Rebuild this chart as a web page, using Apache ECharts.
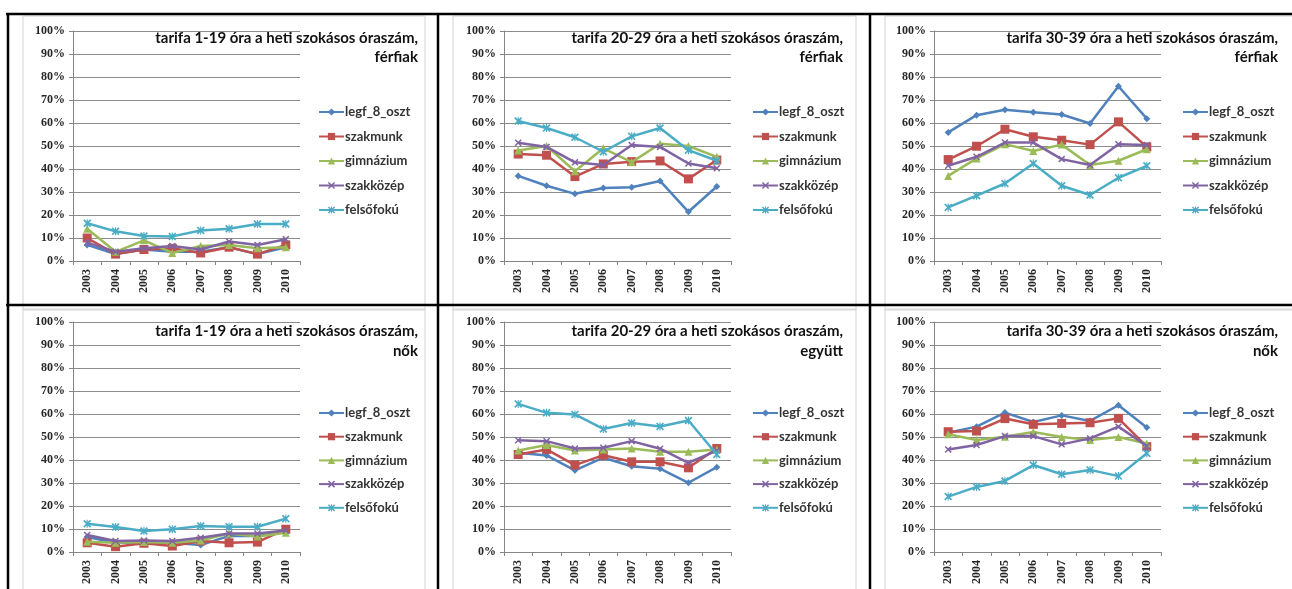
<!DOCTYPE html>
<html>
<head>
<meta charset="utf-8">
<script src="https://cdn.jsdelivr.net/npm/echarts@6/dist/echarts.min.js"></script>
<style>
html,body{margin:0;padding:0;background:#fff;}
#c{width:1292px;height:589px;}
</style>
</head>
<body>
<div id="c"></div>
<script>
// ---- data ----
const categories = ['2003','2004','2005','2006','2007','2008','2009','2010'];
const seriesNames = ['legf_8_oszt','szakmunk','gimnázium','szakközép','felsőfokú'];
const yTicks = [0,10,20,30,40,50,60,70,80,90,100];

// rows: legf_8_oszt, szakmunk, gimnázium, szakközép, felsőfokú (percent)
const tarifa_1_19_ferfiak = [
  [7, 3, 5, 4, 4, 6, 3, 6],
  [10, 3, 5, 5.5, 3.5, 6, 3, 7],
  [14, 4, 9, 3.5, 6.5, 7, 5.5, 6],
  [8, 4, 5.5, 6.5, 5, 8.5, 7, 9.5],
  [16.4, 12.9, 10.9, 10.7, 13.3, 14, 16.1, 16.1]
];
const tarifa_20_29_ferfiak = [
  [37, 32.7, 29.2, 31.7, 32.1, 34.8, 21.4, 32.4],
  [46.5, 46, 36.7, 42.2, 43.2, 43.5, 35.7, 43.9],
  [48, 50, 39, 49, 43, 51, 50, 45.3],
  [51.4, 49.6, 42.9, 41.7, 50.4, 49.6, 42.4, 40.3],
  [60.9, 57.8, 53.8, 47.5, 54.2, 57.8, 48.2, 43.6]
];
const tarifa_30_39_ferfiak = [
  [55.9, 63.4, 65.8, 64.7, 63.7, 59.8, 76, 61.9],
  [44.1, 49.9, 57.3, 54, 52.5, 50.6, 60.5, 49.6],
  [37, 44.6, 50.8, 47.8, 50.6, 41.7, 43.6, 48.6],
  [41.4, 45.3, 51.5, 51.5, 44.3, 41.7, 50.8, 50.4],
  [23.3, 28.4, 33.7, 42.4, 32.7, 28.7, 36.2, 41.4]
];
const tarifa_1_19_nok = [
  [6.5, 4, 4, 4, 3, 7, 7, 9],
  [4, 2.3, 3.8, 2.6, 4.8, 4, 4.3, 9.9],
  [4.5, 4, 4.3, 4, 5, 8, 6.7, 8.4],
  [7.4, 4.8, 5, 4.8, 6.2, 8, 8, 9.4],
  [12.3, 10.9, 9.1, 9.9, 11.3, 11, 11, 14.5]
];
const tarifa_20_29_egyutt = [
  [43.1, 42, 35.5, 41, 37.3, 36.2, 30.1, 36.9],
  [42.4, 44.6, 37.8, 42.1, 39.2, 39.2, 36.6, 45],
  [44.1, 46.5, 44.1, 44.6, 45, 43.6, 43.6, 44.6],
  [48.6, 48.2, 45, 45.3, 48.2, 44.9, 38.8, 44.1],
  [64.4, 60.5, 59.8, 53.5, 56.1, 54.6, 57.2, 42.4]
];
const tarifa_30_39_nok = [
  [51.9, 54.5, 60.6, 56.5, 59.4, 57, 63.8, 54.1],
  [52.3, 52.6, 58, 55.5, 55.9, 56.2, 58.1, 45.8],
  [51.2, 48.7, 50.1, 52.2, 50, 48.7, 50, 47.2],
  [44.6, 46.5, 50.4, 50.4, 46.8, 49.4, 54.5, 46.1],
  [24.1, 28.3, 30.9, 37.8, 33.8, 35.7, 33, 42.9]
];
const panelData = [tarifa_1_19_ferfiak, tarifa_20_29_ferfiak, tarifa_30_39_ferfiak,
                   tarifa_1_19_nok, tarifa_20_29_egyutt, tarifa_30_39_nok];
const titleLine1 = ['tarifa 1-19 óra a heti szokásos óraszám,', 'tarifa 20-29 óra a heti szokásos óraszám,',
  'tarifa 30-39 óra a heti szokásos óraszám,', 'tarifa 1-19 óra a heti szokásos óraszám,',
  'tarifa 20-29 óra a heti szokásos óraszám,', 'tarifa 30-39 óra a heti szokásos óraszám,'];
const titleLine2 = ['férfiak','férfiak','férfiak','nők','együtt','nők'];

// ---- styles / layout ----
const colors = ['#4F81BD','#C0504D','#9BBB59','#8064A2','#4BACC6'];
const X_PATH = 'path://M0,1.5L1.5,0L5,3.5L8.5,0L10,1.5L6.5,5L10,8.5L8.5,10L5,6.5L1.5,10L0,8.5L3.5,5Z';
const STAR_PATH = 'path://M0,1.5L1.5,0L5,3.5L8.5,0L10,1.5L6.5,5L10,8.5L8.5,10L5,6.5L1.5,10L0,8.5L3.5,5Z M4.3,0L5.7,0L5.7,10L4.3,10Z';
const symbols = ['diamond','rect','triangle',X_PATH,STAR_PATH];
const symbolSizes = [7,9,8,7,8];

const gridLefts = [73, 504, 934];
const rowTops = [31, 322];
const gridW = 227, gridH = 230;
const titleRights = [418, 843, 1278];
const titleTops = [[38, 57], [331, 351]];
const legendLefts = [313, 747, 1177];
const legendTops = [100.5, 401.5];
const legendItemH = 9;
const legendGaps = [11.5, 10.7];

const grids = [], xAxes = [], yAxes = [], series = [], legends = [], graphics = [];
const labelFont = 'Liberation Serif';
const sansFont = 'Lato';

for (let p = 0; p < 6; p++) {
  const col = p % 3, row = Math.floor(p / 3);
  grids.push({left: gridLefts[col], top: rowTops[row], width: gridW, height: gridH, containLabel: false});
  xAxes.push({
    type: 'category', gridIndex: p, data: categories, boundaryGap: true,
    axisLine: {lineStyle: {color: '#868686', width: 1}},
    axisTick: {show: true, length: 4, lineStyle: {color: '#868686'}},
    axisLabel: {rotate: 90, margin: 8, color: '#262626', fontFamily: labelFont, fontWeight: 'bold', fontSize: 12}
  });
  yAxes.push({
    type: 'value', gridIndex: p, min: 0, max: 100, interval: 10,
    axisLine: {show: true, lineStyle: {color: '#868686', width: 1}},
    axisTick: {show: true, length: 4, lineStyle: {color: '#868686'}},
    splitLine: {show: true, lineStyle: {color: '#8c8c8c', width: 1}},
    axisLabel: {formatter: v => yTicks.indexOf(v) >= 0 ? v + '%' : '', margin: 8, color: '#262626',
      fontFamily: labelFont, fontWeight: 'bold', fontSize: 12}
  });
  const d = panelData[p];
  for (let s = 0; s < 5; s++) {
    series.push({
      type: 'line', name: seriesNames[s], xAxisIndex: p, yAxisIndex: p, data: d[s],
      symbol: symbols[s], symbolSize: symbolSizes[s], showAllSymbol: true,
      lineStyle: {color: colors[s], width: 2.5},
      itemStyle: {color: colors[s], borderWidth: 0},
      z: 3 + s, animation: false
    });
  }
  legends.push({
    data: seriesNames, orient: 'vertical', left: legendLefts[col], top: legendTops[row],
    itemWidth: 25, itemHeight: legendItemH, itemGap: legendGaps[row], selectedMode: false,
    textStyle: {fontFamily: sansFont, fontWeight: 'bold', fontSize: 13, color: '#333', padding: [0,0,0,-4]}
  });
  graphics.push({
    type: 'text', x: titleRights[col], y: titleTops[row][0],
    style: {text: titleLine1[p], align: 'right', verticalAlign: 'middle', fill: '#111',
      font: 'bold 15px ' + sansFont}, z: 10
  });
  graphics.push({
    type: 'text', x: titleRights[col], y: titleTops[row][1],
    style: {text: titleLine2[p], align: 'right', verticalAlign: 'middle', fill: '#111',
      font: 'bold 15px ' + sansFont}, z: 10
  });
}

// Excel chart boxes (light gray) and black table borders
const boxX = [[23, 425], [453, 856], [885, 1300]];
const boxY = [[16, 310], [309, 600]];
for (let r = 0; r < 2; r++) for (let c = 0; c < 3; c++) {
  graphics.push({type: 'rect', shape: {x: boxX[c][0], y: boxY[r][0], width: boxX[c][1]-boxX[c][0], height: boxY[r][1]-boxY[r][0]},
    style: {fill: null, stroke: '#d4d4d4', lineWidth: 1}, z: 0, silent: true});
}
const black = {stroke: '#000', lineWidth: 2.5};
graphics.push({type: 'line', shape: {x1: 6, y1: 14, x2: 1292, y2: 14}, style: black, z: 20});
graphics.push({type: 'line', shape: {x1: 6, y1: 305, x2: 1292, y2: 305}, style: black, z: 20});
[8, 438, 870].forEach(x => graphics.push({type: 'line', shape: {x1: x, y1: 13, x2: x, y2: 589}, style: black, z: 20}));

const chart = echarts.init(document.getElementById('c'), null, {renderer: 'canvas'});
chart.setOption({
  animation: false,
  backgroundColor: '#fff',
  grid: grids, xAxis: xAxes, yAxis: yAxes, series: series, legend: legends, graphic: graphics
});
</script>
</body>
</html>
